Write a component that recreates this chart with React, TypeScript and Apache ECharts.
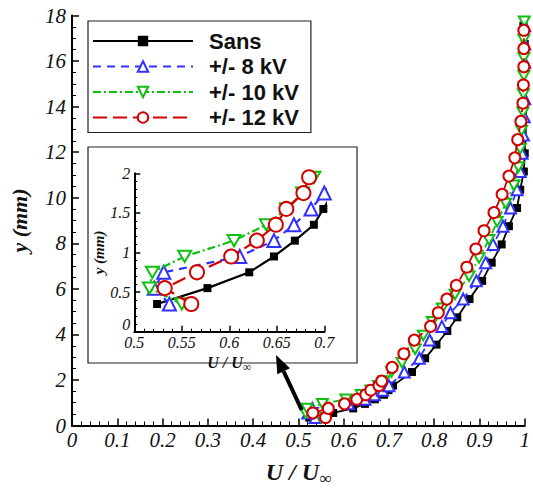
import React, { useEffect, useRef } from 'react';
import * as echarts from 'echarts';

const seriesNames = ['Sans', '+/- 8 kV', '+/- 10 kV', '+/- 12 kV'];

const sansY = [0.35, 0.55, 0.75, 0.95, 1.15, 1.35, 1.55, 1.75, 2.35, 2.95, 3.55, 4.15, 4.75, 5.55, 6.35, 7.15, 7.95, 8.75, 9.55, 10.35, 11.15, 11.95, 12.75, 13.55, 14.35, 15.15, 15.95, 16.75, 17.55];
const sansU = [0.524, 0.577, 0.621, 0.647, 0.669, 0.689, 0.699, 0.709, 0.751, 0.78, 0.805, 0.829, 0.851, 0.878, 0.906, 0.927, 0.949, 0.965, 0.983, 0.99, 0.998, 1.0, 1.002, 1.003, 1.003, 1.008, 1.002, 1.0, 0.997];

const kv8Y = [0.35, 0.55, 0.75, 0.95, 1.15, 1.35, 1.55, 1.75, 2.35, 2.95, 3.75, 4.35, 4.95, 5.55, 6.35, 7.15, 7.95, 8.75, 9.55, 10.35, 11.15, 11.95, 12.75, 13.55, 14.35, 15.15, 15.95, 16.75, 17.55];
const kv8U = [0.537, 0.521, 0.531, 0.611, 0.647, 0.668, 0.686, 0.7, 0.734, 0.767, 0.79, 0.817, 0.836, 0.864, 0.893, 0.9135, 0.93, 0.952, 0.9685, 0.983, 0.99, 0.994, 0.997, 0.999, 1.0, 1.001, 1.0, 1.0, 1.0];

const kv10Y = [0.35, 0.55, 0.75, 0.95, 1.15, 1.35, 1.55, 1.75, 1.95, 2.35, 2.75, 3.35, 3.95, 4.55, 5.15, 5.75, 6.55, 7.35, 8.15, 8.95, 9.75, 10.55, 11.35, 12.15, 12.95, 13.75, 14.55, 15.35, 16.15, 16.95, 17.75];
const kv10U = [0.55, 0.516, 0.519, 0.553, 0.605, 0.639, 0.66, 0.677, 0.689, 0.706, 0.729, 0.758, 0.776, 0.796, 0.818, 0.846, 0.877, 0.899, 0.921, 0.939, 0.958, 0.976, 0.986, 0.99, 0.993, 0.996, 0.997, 0.998, 0.998, 0.998, 0.999];

const kv12Y = [0.35, 0.55, 0.75, 0.95, 1.15, 1.35, 1.55, 1.75, 1.95, 2.55, 3.15, 3.75, 4.35, 4.95, 5.55, 6.15, 6.95, 7.75, 8.55, 9.35, 10.15, 10.95, 11.75, 12.55, 13.35, 14.15, 14.95, 15.75, 16.55, 17.35];
const kv12U = [0.56, 0.532, 0.566, 0.602, 0.629, 0.649, 0.66, 0.678, 0.684, 0.707, 0.733, 0.756, 0.792, 0.809, 0.828, 0.849, 0.872, 0.892, 0.91, 0.932, 0.95, 0.965, 0.978, 0.9845, 0.9915, 0.996, 0.997, 0.998, 0.998, 0.998];

const allU = [sansU, kv8U, kv10U, kv12U];
const allY = [sansY, kv8Y, kv10Y, kv12Y];

const looks = [
  { color: '#000000', dash: 'solid' as any, symbol: 'rect', fill: '#000000', size: 8, insetSize: 8 },
  { color: '#3030ff', dash: [8, 6], symbol: 'triangle', fill: '#ffffff', size: 11, insetSize: 13 },
  { color: '#10c010', dash: [8, 3, 2, 3], symbol: 'path://M0,0L10,0L5,8.66Z', fill: '#ffffff', size: 11, insetSize: 13 },
  { color: '#d40000', dash: [14, 6], symbol: 'circle', fill: '#ffffff', size: 11, insetSize: 14 },
];

const serifIt = { fontFamily: 'Liberation Serif', fontStyle: 'italic' as const, color: '#111' };

function axisCommon(min: number, max: number, interval: number, labelSize: number, minorSplit: number) {
  return {
    min, max, interval,
    axisLine: { show: true, onZero: false, lineStyle: { color: '#000', width: 2 } },
    axisTick: { show: true, inside: true, length: 7, lineStyle: { color: '#000', width: 1.5 } },
    minorTick: { show: true, splitNumber: minorSplit, length: 4, lineStyle: { color: '#000', width: 1 } },
    splitLine: { show: false },
    minorSplitLine: { show: false },
    axisLabel: { ...serifIt, fontSize: labelSize, margin: 6 },
  };
}

export default function App() {
  const ref = useRef<HTMLDivElement>(null);
  useEffect(() => {
    const chart = echarts.init(ref.current!, null, { renderer: 'svg' });
    const series: any[] = [];
    for (let g = 0; g < 2; g++) {
      seriesNames.forEach((name, i) => {
        const lk = looks[i];
        series.push({
          type: 'line',
          name,
          xAxisIndex: g,
          yAxisIndex: g,
          data: allU[i].map((u, k) => [u, allY[i][k]]),
          symbol: lk.symbol,
          symbolSize: g === 0 ? lk.size : lk.insetSize,
          symbolKeepAspect: true,
          showAllSymbol: true,
          clip: true,
          z: 2 + i * 0.1,
          lineStyle: { color: lk.color, width: g === 0 ? 1.8 : 2.2, type: lk.dash },
          itemStyle: { color: lk.fill, borderColor: lk.color, borderWidth: i === 0 ? 0 : 2, opacity: 1 },
          emphasis: { disabled: true },
        });
      });
    }

    const ax = 276, ay = 355;
    const tx = 301.7, ty = 410;
    const dx = ax - tx, dy = ay - ty;
    const len = Math.sqrt(dx * dx + dy * dy);
    const ux = dx / len, uy = dy / len;
    const bx = ax - 18 * ux, by = ay - 18 * uy;
    const px = -uy, py = ux;

    const option: any = {
      animation: false,
      backgroundColor: '#ffffff',
      grid: [
        { left: 71.7, top: 15.5, width: 454.3, height: 423, containLabel: false },
        { left: 134.3, top: 173.3, width: 190, height: 158.4, containLabel: false },
      ],
      xAxis: [
        {
          type: 'value', gridIndex: 0, ...axisCommon(0, 1, 0.1, 21, 5),
          axisLabel: { ...serifIt, fontSize: 21, margin: 4 },
          name: '{a|U / U}{b|∞}', nameLocation: 'middle', nameGap: 32,
          nameTextStyle: {
            rich: {
              a: { fontFamily: 'Liberation Serif', fontStyle: 'italic', fontWeight: 'bold', fontSize: 24, color: '#111', lineHeight: 28 },
              b: { fontFamily: 'Liberation Serif', fontStyle: 'italic', fontWeight: 'bold', fontSize: 17, color: '#111', lineHeight: 28, padding: [14, 0, 0, 0] },
            },
          },
        },
        {
          type: 'value', gridIndex: 1, z: 3, ...axisCommon(0.5, 0.7, 0.05, 16, 5),
          axisTick: { show: true, inside: true, length: 6, lineStyle: { color: '#000', width: 1.5 } },
          minorTick: { show: true, splitNumber: 5, length: 3, lineStyle: { color: '#000', width: 1 } },
          axisLabel: { ...serifIt, fontSize: 16, margin: 3 },
          name: '{a|U / U}{b|∞}', nameLocation: 'middle', nameGap: 20,
          nameTextStyle: {
            rich: {
              a: { fontFamily: 'Liberation Serif', fontStyle: 'italic', fontWeight: 'bold', fontSize: 16, color: '#111', lineHeight: 18 },
              b: { fontFamily: 'Liberation Serif', fontStyle: 'italic', fontWeight: 'bold', fontSize: 12, color: '#111', lineHeight: 18, padding: [9, 0, 0, 0] },
            },
          },
        },
      ],
      yAxis: [
        {
          type: 'value', gridIndex: 0, ...axisCommon(0, 18, 2, 21, 4),
          axisLabel: { ...serifIt, fontSize: 21, margin: 6 },
          name: 'y (mm)', nameLocation: 'middle', nameGap: 42, nameRotate: 90,
          nameTextStyle: { fontFamily: 'Liberation Serif', fontStyle: 'italic', fontWeight: 'bold', fontSize: 22, color: '#111' },
        },
        {
          type: 'value', gridIndex: 1, z: 3, ...axisCommon(0, 2, 0.5, 16, 5),
          axisTick: { show: true, inside: true, length: 6, lineStyle: { color: '#000', width: 1.5 } },
          minorTick: { show: true, splitNumber: 5, length: 3, lineStyle: { color: '#000', width: 1 } },
          axisLabel: {
            ...serifIt, fontSize: 16, margin: 4,
            formatter: (v: number) => (v === 0 ? '{z|0}' : String(v)),
            rich: { z: { ...serifIt, fontSize: 16, padding: [0, 0, 14, 0] } },
          },
          name: 'y (mm)', nameLocation: 'middle', nameGap: 28, nameRotate: 90,
          nameTextStyle: { fontFamily: 'Liberation Serif', fontStyle: 'italic', fontWeight: 'bold', fontSize: 15, color: '#111' },
        },
      ],
      legend: {
        data: seriesNames,
        orient: 'vertical',
        left: 88,
        top: 21,
        padding: [9, 12, 4, 4],
        itemWidth: 100,
        itemHeight: 13,
        itemGap: 3.5,
        borderColor: '#222',
        borderWidth: 1.2,
        backgroundColor: '#fff',
        selectedMode: false,
        textStyle: { fontFamily: 'Liberation Sans', fontWeight: 'bold', fontSize: 22, color: '#111', lineHeight: 22, padding: [0, 0, 0, 11] },
      },
      graphic: [
        { type: 'rect', z: 1, shape: { x: 88, y: 147, width: 269, height: 216 }, style: { fill: '#fff', stroke: '#222', lineWidth: 1.2 } },
        { type: 'line', z: 10, shape: { x1: tx, y1: ty, x2: bx, y2: by }, style: { stroke: '#000', lineWidth: 4 } },
        {
          type: 'polygon', z: 10,
          shape: { points: [[ax, ay], [bx + 7 * px, by + 7 * py], [bx - 7 * px, by - 7 * py]] },
          style: { fill: '#000' },
        },
      ],
      series,
    };
    chart.setOption(option);
    return () => chart.dispose();
  }, []);
  return <div ref={ref} style={{ position: 'fixed', left: 0, top: 0, width: 533, height: 492, background: '#fff' }} />;
}
